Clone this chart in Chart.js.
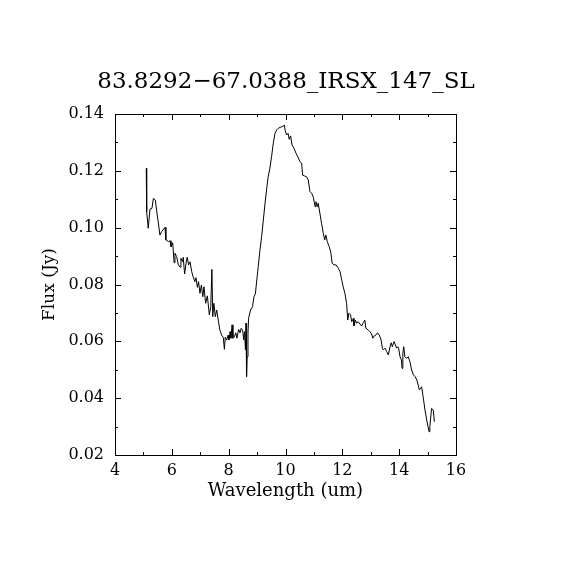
<!DOCTYPE html>
<html>
<head>
<meta charset="utf-8">
<script src="https://cdn.jsdelivr.net/npm/chart.js@4.4.1/dist/chart.umd.min.js"></script>
<style>
  body { margin: 0; background: #fff; }
  #wrap { width: 570px; height: 570px; }
</style>
</head>
<body>
<div id="wrap"><canvas id="spec" width="570" height="570"></canvas></div>
<script>
// spectrum
const wavelength = [
  5.10, 5.11, 5.12, 5.17, 5.23, 5.30, 5.35, 5.42, 5.47, 5.52, 5.58, 5.64, 5.76, 5.79, 5.88, 5.94, 5.97, 6.03,
  6.08, 6.11, 6.17, 6.23, 6.29, 6.32, 6.38, 6.40, 6.45, 6.50, 6.54, 6.59, 6.64, 6.70, 6.75, 6.81, 6.85, 6.90,
  6.94, 6.99, 7.04, 7.09, 7.13, 7.19, 7.25, 7.32, 7.37, 7.41, 7.44, 7.48, 7.53, 7.58, 7.65, 7.69, 7.75, 7.81,
  7.85, 7.88, 7.93, 7.98, 8.01, 8.05, 8.08, 8.12, 8.15, 8.20, 8.25, 8.29, 8.35, 8.40, 8.44, 8.49, 8.53, 8.56,
  8.59, 8.61, 8.63, 8.65, 8.68, 8.70, 8.77, 8.84, 8.89, 8.94, 8.99, 9.04, 9.10, 9.16, 9.22, 9.28, 9.34, 9.39,
  9.45, 9.51, 9.57, 9.63, 9.69, 9.75, 9.81, 9.87, 9.92, 9.96, 9.99, 10.04, 10.09, 10.13, 10.18, 10.23, 10.30,
  10.37, 10.44, 10.51, 10.57, 10.60, 10.67, 10.74, 10.80, 10.86, 10.92, 10.98, 11.04, 11.07, 11.12, 11.15,
  11.21, 11.27, 11.33, 11.38, 11.42, 11.47, 11.54, 11.60, 11.64, 11.71, 11.78, 11.86, 11.92, 11.98, 12.03,
  12.09, 12.15, 12.19, 12.23, 12.29, 12.33, 12.39, 12.41, 12.46, 12.50, 12.56, 12.62, 12.68, 12.74, 12.79,
  12.83, 12.91, 12.97, 13.03, 13.07, 13.12, 13.18, 13.24, 13.30, 13.36, 13.41, 13.44, 13.50, 13.56, 13.62,
  13.68, 13.72, 13.76, 13.82, 13.87, 13.91, 13.95, 13.98, 14.03, 14.08, 14.10, 14.13, 14.16, 14.20, 14.26,
  14.32, 14.38, 14.44, 14.50, 14.56, 14.62, 14.67, 14.71, 14.76, 14.79, 14.85, 14.91, 14.97, 15.05, 15.08,
  15.14, 15.20, 15.24
];
const flux = [
  0.1209, 0.1123, 0.1056, 0.0998, 0.1065, 0.1068, 0.1103, 0.1097, 0.1056, 0.1021, 0.0974, 0.0986, 0.1001, 0.0957, 0.0951, 0.0954, 0.0933, 0.0947,
  0.0877, 0.0910, 0.0898, 0.0869, 0.0861, 0.0892, 0.0880, 0.0896, 0.0837, 0.0875, 0.0896, 0.0869, 0.0880, 0.0845, 0.0827, 0.0810, 0.0824, 0.0790,
  0.0810, 0.0769, 0.0798, 0.0757, 0.0792, 0.0734, 0.0760, 0.0693, 0.0722, 0.0853, 0.0687, 0.0734, 0.0687, 0.0710, 0.0664, 0.0640, 0.0622, 0.0614,
  0.0572, 0.0614, 0.0605, 0.0622, 0.0605, 0.0634, 0.0611, 0.0658, 0.0611, 0.0616, 0.0630, 0.0611, 0.0642, 0.0630, 0.0646, 0.0640, 0.0605, 0.0634,
  0.0570, 0.0664, 0.0476, 0.0546, 0.0628, 0.0681, 0.0710, 0.0722, 0.0757, 0.0767, 0.0816, 0.0863, 0.0921, 0.0968, 0.1027, 0.1086, 0.1139, 0.1179,
  0.1209, 0.1250, 0.1297, 0.1332, 0.1344, 0.1350, 0.1353, 0.1355, 0.1358, 0.1361, 0.1341, 0.1326, 0.1332, 0.1311, 0.1323, 0.1291, 0.1279,
  0.1262, 0.1248, 0.1232, 0.1227, 0.1185, 0.1182, 0.1179, 0.1168, 0.1127, 0.1121, 0.1107, 0.1074, 0.1091, 0.1074, 0.1086,
  0.1051, 0.1015, 0.0980, 0.0957, 0.0974, 0.0951, 0.0933, 0.0910, 0.0875, 0.0869, 0.0869, 0.0857, 0.0845, 0.0816, 0.0792,
  0.0769, 0.0734, 0.0675, 0.0699, 0.0693, 0.0669, 0.0681, 0.0654, 0.0675, 0.0664, 0.0669, 0.0661, 0.0654, 0.0666, 0.0675,
  0.0646, 0.0640, 0.0634, 0.0626, 0.0611, 0.0619, 0.0622, 0.0630, 0.0622, 0.0607, 0.0576, 0.0570, 0.0576, 0.0564, 0.0552,
  0.0581, 0.0595, 0.0581, 0.0599, 0.0587, 0.0576, 0.0581, 0.0576, 0.0546, 0.0534, 0.0505, 0.0558, 0.0581, 0.0546, 0.0540,
  0.0546, 0.0528, 0.0499, 0.0482, 0.0476, 0.0464, 0.0446, 0.0429, 0.0435, 0.0440, 0.0400, 0.0358, 0.0323, 0.0282, 0.0300,
  0.0364, 0.0358, 0.0317
];

const xTicks = [4, 6, 8, 10, 12, 14, 16];
const yTicks = [0.02, 0.04, 0.06, 0.08, 0.10, 0.12, 0.14];
const xMinor = [5, 7, 9, 11, 13, 15];
const yMinor = [0.03, 0.05, 0.07, 0.09, 0.11, 0.13];
const plotTitle = '83.8292\u221267.0388_IRSX_147_SL';

const serif = "'DejaVu Serif', serif";

// inward ticks on all four sides, closing box, and the title centred on the page
const boxTicks = {
  id: 'boxTicks',
  afterDraw(chart) {
    const { ctx, chartArea: a, scales: { x, y } } = chart;
    ctx.save();
    ctx.strokeStyle = '#000';
    ctx.lineWidth = 1;
    ctx.beginPath();
    const tx = (v, len) => {
      const p = Math.round(x.getPixelForValue(v)) + 0.5;
      ctx.moveTo(p, a.bottom); ctx.lineTo(p, a.bottom - len);
      ctx.moveTo(p, a.top); ctx.lineTo(p, a.top + len);
    };
    const ty = (v, len) => {
      const p = Math.round(y.getPixelForValue(v)) + 0.5;
      ctx.moveTo(a.left, p); ctx.lineTo(a.left + len, p);
      ctx.moveTo(a.right, p); ctx.lineTo(a.right - len, p);
    };
    xTicks.forEach(v => tx(v, 6));
    xMinor.forEach(v => tx(v, 3));
    yTicks.forEach(v => ty(v, 6));
    yMinor.forEach(v => ty(v, 3));
    ctx.stroke();
    ctx.strokeRect(Math.round(a.left) + 0.5, Math.round(a.top) + 0.5,
      Math.round(a.right - a.left), Math.round(a.bottom - a.top));

    ctx.fillStyle = '#000';
    ctx.font = '23px ' + serif;
    ctx.textAlign = 'center';
    ctx.textBaseline = 'middle';
    ctx.fillText(plotTitle, 286, 82);
    ctx.restore();
  }
};

new Chart(document.getElementById('spec'), {
  type: 'scatter',
  data: {
    datasets: [{
      data: wavelength.map((w, i) => ({ x: w, y: flux[i] })),
      showLine: true,
      borderColor: '#000',
      borderWidth: 1,
      pointRadius: 0,
      tension: 0
    }]
  },
  options: {
    responsive: false,
    animation: false,
    devicePixelRatio: 1,
    layout: { padding: { left: 10, right: 114, top: 114, bottom: 60 } },
    plugins: {
      legend: { display: false },
      tooltip: { enabled: false },
      title: { display: false }
    },
    scales: {
      x: {
        type: 'linear',
        min: 4, max: 16,
        afterBuildTicks: s => { s.ticks = xTicks.map(v => ({ value: v })); },
        afterFit: s => { s.height = 55; },
        grid: { display: false, drawTicks: false },
        border: { display: false },
        ticks: {
          color: '#000', padding: 6, maxRotation: 0,
          font: { family: serif, size: 16 },
          callback: v => String(v)
        },
        title: {
          display: true, text: 'Wavelength (um)', color: '#000',
          font: { family: serif, size: 18 },
          padding: { top: 0, bottom: 8 }
        }
      },
      y: {
        type: 'linear',
        min: 0.02, max: 0.14,
        afterBuildTicks: s => { s.ticks = yTicks.map(v => ({ value: v })); },
        afterFit: s => { s.width = 105; },
        grid: { display: false, drawTicks: false },
        border: { display: false },
        ticks: {
          color: '#000', padding: 11,
          font: { family: serif, size: 16 },
          callback: v => v.toFixed(2)
        },
        title: {
          display: true, text: 'Flux (Jy)', color: '#000',
          font: { family: serif, size: 17 },
          padding: { top: 29, bottom: 0 }
        }
      }
    }
  },
  plugins: [boxTicks]
});
</script>
</body>
</html>
